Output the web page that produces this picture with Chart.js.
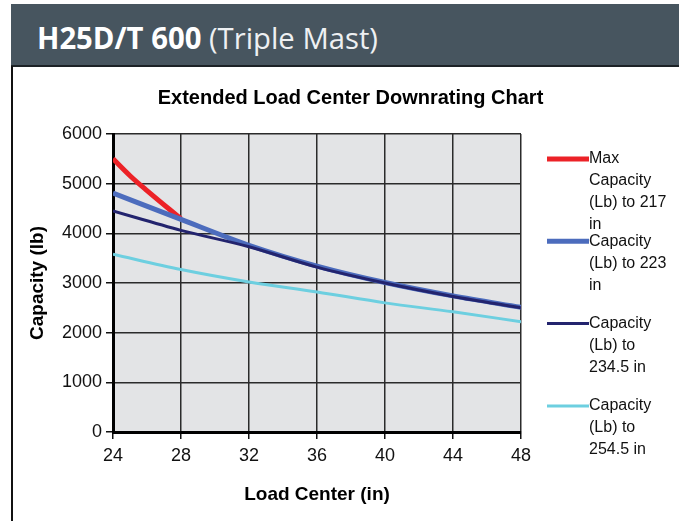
<!DOCTYPE html>
<html>
<head>
<meta charset="utf-8">
<script src="https://cdn.jsdelivr.net/npm/chart.js@4.4.1/dist/chart.umd.min.js"></script>
<style>
html, body { margin: 0; padding: 0; background: #fff; }
#wrap { position: relative; width: 679px; height: 521px; overflow: hidden; }
#band { position: absolute; left: 11px; top: 4px; width: 668px; height: 61px; background: #47555f; border-bottom: 2px solid #1c2226; }
#band .t { position: absolute; left: 26px; top: 13px; white-space: nowrap; color: #fff; font-family: 'Open Sans', sans-serif; font-size: 30px; transform-origin: 0 0; }
#band .t b { font-weight: 700; }
#band .t span { font-weight: 400; color: #eef0f2; }
#edge { position: absolute; left: 11px; top: 66px; width: 2px; height: 455px; background: #111; }
canvas { position: absolute; left: 0; top: 0; }
</style>
</head>
<body>
<div id="wrap">
  <div id="band"><div class="t" id="head"><b>H25D/T 600</b> <span>(Triple Mast)</span></div></div>
  <div id="edge"></div>
  <canvas id="chart" width="679" height="521"></canvas>
</div>
<script>
// load center (in) and capacity (lb)
var loadCenter = [24, 28, 32, 36, 40, 44, 48];
var maxCapX = [24, 25, 26, 28];
var maxCap217 = [5500, 5160, 4860, 4290];
var cap223 = [4810, 4280, 3760, 3340, 3010, 2740, 2510];
var cap2345 = [4450, 4060, 3730, 3320, 3000, 2730, 2500];
var cap2545 = [3580, 3270, 3020, 2820, 2600, 2420, 2220];

var seriesLabels = [
    ['Max', 'Capacity', '(Lb) to 217', 'in'],
    ['Capacity', '(Lb) to 223', 'in'],
    ['Capacity', '(Lb) to', '234.5 in'],
    ['Capacity', '(Lb) to', '254.5 in'],
];

// squeeze header text to the width in the picture
var head = document.getElementById('head');
head.style.transform = 'scaleX(' + (341 / head.getBoundingClientRect().width) + ')';

function pairs(xs, ys) {
    return ys.map(function (y, i) { return { x: xs[i], y: y }; });
}

var font = 'Liberation Sans, Arial, sans-serif';
Chart.defaults.font.family = font;
Chart.defaults.color = '#111';

var plotBg = {
    id: 'plotBg',
    beforeDraw: function (chart) {
        var a = chart.chartArea, ctx = chart.ctx;
        ctx.save();
        ctx.fillStyle = '#e3e4e6';
        ctx.fillRect(a.left, a.top, a.right - a.left, a.bottom - a.top);
        ctx.restore();
    },
};

var sideLegend = {
    id: 'sideLegend',
    afterDraw: function (chart) {
        var a = chart.chartArea, ctx = chart.ctx;
        ctx.save();
        ctx.font = '16px ' + font;
        ctx.textBaseline = 'middle';
        ctx.fillStyle = '#111';
        chart.data.datasets.forEach(function (ds, i) {
            var y0 = a.top + 25 + i * 82.3;
            ctx.strokeStyle = ds.borderColor;
            ctx.lineWidth = ds.borderWidth;
            ctx.beginPath();
            ctx.moveTo(a.right + 26, y0);
            ctx.lineTo(a.right + 68, y0);
            ctx.stroke();
            seriesLabels[i].forEach(function (line, j) {
                ctx.fillText(line, a.right + 68, y0 + j * 22);
            });
        });
        ctx.restore();
    },
};

var data = {
    datasets: [
        {
            label: 'Max Capacity (Lb) to 217 in',
            data: pairs(maxCapX, maxCap217),
            borderColor: '#ec2227',
            borderWidth: 5,
            order: 3,
        },
        {
            label: 'Capacity (Lb) to 223 in',
            data: pairs(loadCenter, cap223),
            borderColor: '#4c6cbd',
            borderWidth: 5,
            order: 2,
        },
        {
            label: 'Capacity (Lb) to 234.5 in',
            data: pairs(loadCenter, cap2345),
            borderColor: '#23246e',
            borderWidth: 3,
            order: 1,
        },
        {
            label: 'Capacity (Lb) to 254.5 in',
            data: pairs(loadCenter, cap2545),
            borderColor: '#6dcfe0',
            borderWidth: 3,
            order: 0,
        },
    ],
};

var config = {
    type: 'line',
    data: data,
    options: {
        responsive: false,
        animation: false,
        devicePixelRatio: 1,
        layout: { padding: { left: 22, right: 0, top: 0, bottom: 11 } },
        elements: {
            point: { radius: 0 },
            line: { tension: 0.4, cubicInterpolationMode: 'monotone', fill: false },
        },
        plugins: {
            legend: { display: false },
            tooltip: { enabled: false },
            title: {
                display: true,
                text: 'Extended Load Center Downrating Chart',
                color: '#000',
                font: { size: 20, weight: 'bold' },
                padding: { top: 86, bottom: 24 },
            },
        },
        scales: {
            x: {
                type: 'linear',
                min: 24,
                max: 48,
                ticks: { stepSize: 4, padding: 6, color: '#111', font: { size: 18 } },
                grid: { color: '#2b2b2b', lineWidth: 1.5, tickLength: 7, tickColor: '#111' },
                border: { color: '#000', width: 3 },
                title: { display: true, text: 'Load Center (in)', color: '#000', font: { size: 19, weight: 'bold' } },
                afterFit: function (s) { s.height = 78; },
            },
            y: {
                min: 0,
                max: 6000,
                ticks: {
                    stepSize: 1000,
                    padding: 4,
                    color: '#111',
                    font: { size: 18 },
                    callback: function (value) { return String(value); },
                },
                grid: { color: '#2b2b2b', lineWidth: 1.5, tickLength: 7, tickColor: '#111' },
                border: { color: '#000', width: 3 },
                title: { display: true, text: 'Capacity (lb)', color: '#000', font: { size: 19, weight: 'bold' } },
                afterFit: function (s) { s.width = 91; },
            },
            side: {
                position: 'right',
                grid: { display: false },
                border: { display: false },
                ticks: { display: false },
                afterFit: function (s) { s.width = 158; },
            },
        },
    },
    plugins: [plotBg, sideLegend],
};

var myChart = new Chart(document.getElementById('chart'), config);
</script>
</body>
</html>
